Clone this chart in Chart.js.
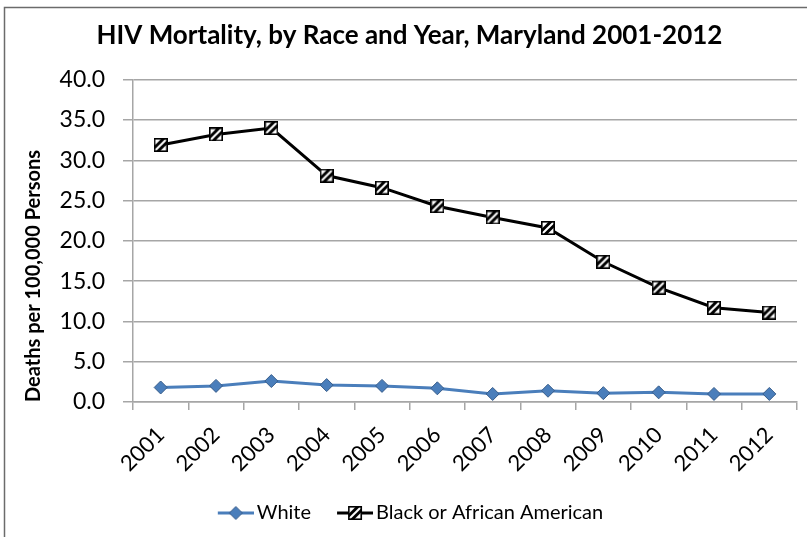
<!DOCTYPE html>
<html>
<head>
<meta charset="utf-8">
<script src="https://cdn.jsdelivr.net/npm/chart.js@4"></script>
<style>
  html, body { margin: 0; padding: 0; background: #fff; }
  #wrap { width: 807px; height: 537px; position: relative; overflow: hidden; }
</style>
</head>
<body>
<div id="wrap"><canvas id="c" width="807" height="537"></canvas></div>
<script>
// HIV deaths per 100,000 persons, Maryland
const years = ['2001', '2002', '2003', '2004', '2005', '2006', '2007', '2008', '2009', '2010', '2011', '2012'];
const whiteRates = [1.8, 2.0, 2.6, 2.1, 2.0, 1.7, 1.0, 1.4, 1.1, 1.2, 1.0, 1.0];
const blackRates = [31.9, 33.2, 34.0, 28.1, 26.6, 24.3, 22.9, 21.6, 17.4, 14.2, 11.7, 11.1];
const seriesNames = ['White', 'Black or African American'];
const yMin = 0, yMax = 40, yStep = 5;

const FONT = 'Lato, "Open Sans", sans-serif';
const BLUE = '#4a7ebb';
const BLUE_EDGE = '#385d8a';
const GRID = '#a6a6a6';

// Hatched square marker (white box with two black diagonal stripes)
function drawHatch(g, x, y, s) {
  g.save();
  g.fillStyle = '#fff';
  g.fillRect(x, y, s, s);
  g.beginPath();
  g.rect(x, y, s, s);
  g.clip();
  g.strokeStyle = '#000';
  g.lineWidth = 3;
  [-3.5, 3.5].forEach(k => {
    g.beginPath();
    g.moveTo(x + k, y + s);
    g.lineTo(x + k + s, y);
    g.stroke();
  });
  g.restore();
  g.strokeStyle = '#000';
  g.lineWidth = 1.6;
  g.strokeRect(x + 0.8, y + 0.8, s - 1.6, s - 1.6);
}
function hatchMarker(size) {
  const c = document.createElement('canvas');
  c.width = size; c.height = size;
  drawHatch(c.getContext('2d'), 0, 0, size);
  return c;
}
function drawDiamond(g, cx, cy, r) {
  g.beginPath();
  g.moveTo(cx, cy - r);
  g.lineTo(cx + r, cy);
  g.lineTo(cx, cy + r);
  g.lineTo(cx - r, cy);
  g.closePath();
  g.fillStyle = BLUE;
  g.fill();
  g.strokeStyle = BLUE_EDGE;
  g.lineWidth = 1;
  g.stroke();
}

// Legend key geometry: the key box is KEY_BOX wide, the drawn key
// (line + marker) is KEY_LEN wide and sits against the label text.
const KEY_BOX = 31, KEY_LEN = 36, KEY_IMG = KEY_BOX + 14, KEY_H = 16;
function legendKey(kind) {
  const c = document.createElement('canvas');
  c.width = KEY_IMG; c.height = KEY_H;
  const g = c.getContext('2d');
  const x0 = KEY_IMG - KEY_LEN, cy = KEY_H / 2;
  g.beginPath();
  g.moveTo(x0, cy);
  g.lineTo(KEY_IMG, cy);
  g.lineWidth = 3;
  g.strokeStyle = kind === 'white' ? BLUE : '#000';
  g.stroke();
  const cx = x0 + KEY_LEN / 2;
  if (kind === 'white') drawDiamond(g, cx, cy, 6.5);
  else drawHatch(g, cx - 7, cy - 7, 14);
  return c;
}

const hatch = hatchMarker(14);
const legendKeys = [legendKey('white'), legendKey('black')];

// Outer frame of the chart
const framePlugin = {
  id: 'frame',
  beforeDraw(chart) {
    const g = chart.ctx;
    g.save();
    g.strokeStyle = '#6b6b6b';
    g.lineWidth = 1.5;
    g.strokeRect(4.5, 7.5, 830, 560);
    g.restore();
  }
};

new Chart(document.getElementById('c'), {
  type: 'line',
  data: {
    labels: years,
    datasets: [
      {
        label: seriesNames[0],
        data: whiteRates,
        borderColor: BLUE,
        borderWidth: 3,
        pointStyle: 'rectRot',
        pointRadius: 6.5,
        pointHoverRadius: 6.5,
        pointBackgroundColor: BLUE,
        pointBorderColor: BLUE_EDGE,
        pointBorderWidth: 1,
        tension: 0
      },
      {
        label: seriesNames[1],
        data: blackRates,
        borderColor: '#000',
        borderWidth: 3,
        pointStyle: hatch,
        pointRadius: 7,
        pointHoverRadius: 7,
        tension: 0
      }
    ]
  },
  options: {
    responsive: false,
    animation: false,
    events: [],
    layout: { padding: { left: 22, right: 10, top: 10, bottom: 4 } },
    plugins: {
      title: {
        display: true,
        text: 'HIV Mortality, by Race and Year, Maryland 2001-2012',
        color: '#000',
        font: { family: FONT, size: 26, weight: 'bold' },
        padding: { top: 10, bottom: 28.5 }
      },
      legend: {
        position: 'bottom',
        labels: {
          usePointStyle: true,
          pointStyleWidth: KEY_BOX,
          color: '#000',
          font: { family: FONT, size: 20 },
          padding: 24,
          generateLabels() {
            return seriesNames.map((name, i) => ({
              text: name,
              pointStyle: legendKeys[i],
              fillStyle: 'transparent',
              strokeStyle: 'transparent',
              lineWidth: 0,
              hidden: false,
              datasetIndex: i
            }));
          }
        }
      },
      tooltip: { enabled: false }
    },
    scales: {
      x: {
        type: 'category',
        offset: true,
        grid: { offset: true, drawOnChartArea: false, tickLength: 8, color: GRID, lineWidth: 1.5 },
        border: { color: GRID, width: 1.5 },
        ticks: {
          minRotation: 45, maxRotation: 45,
          color: '#000',
          font: { family: FONT, size: 22 },
          padding: 12
        },
        afterFit(s) { s.height = 77; }
      },
      y: {
        min: yMin, max: yMax,
        ticks: {
          stepSize: yStep,
          color: '#000',
          font: { family: FONT, size: 23 },
          padding: 18,
          callback: v => Number(v).toFixed(1)
        },
        grid: { color: GRID, lineWidth: 1.5, tickLength: 10 },
        border: { color: GRID, width: 1.5 },
        title: {
          display: true,
          align: 'start',
          text: 'Deaths per 100,000 Persons',
          color: '#000',
          font: { family: FONT, size: 20, weight: 'bold' },
          padding: { top: 0, bottom: 0 }
        },
        afterFit(s) { s.width = 111; }
      }
    }
  },
  plugins: [framePlugin]
});
</script>
</body>
</html>
